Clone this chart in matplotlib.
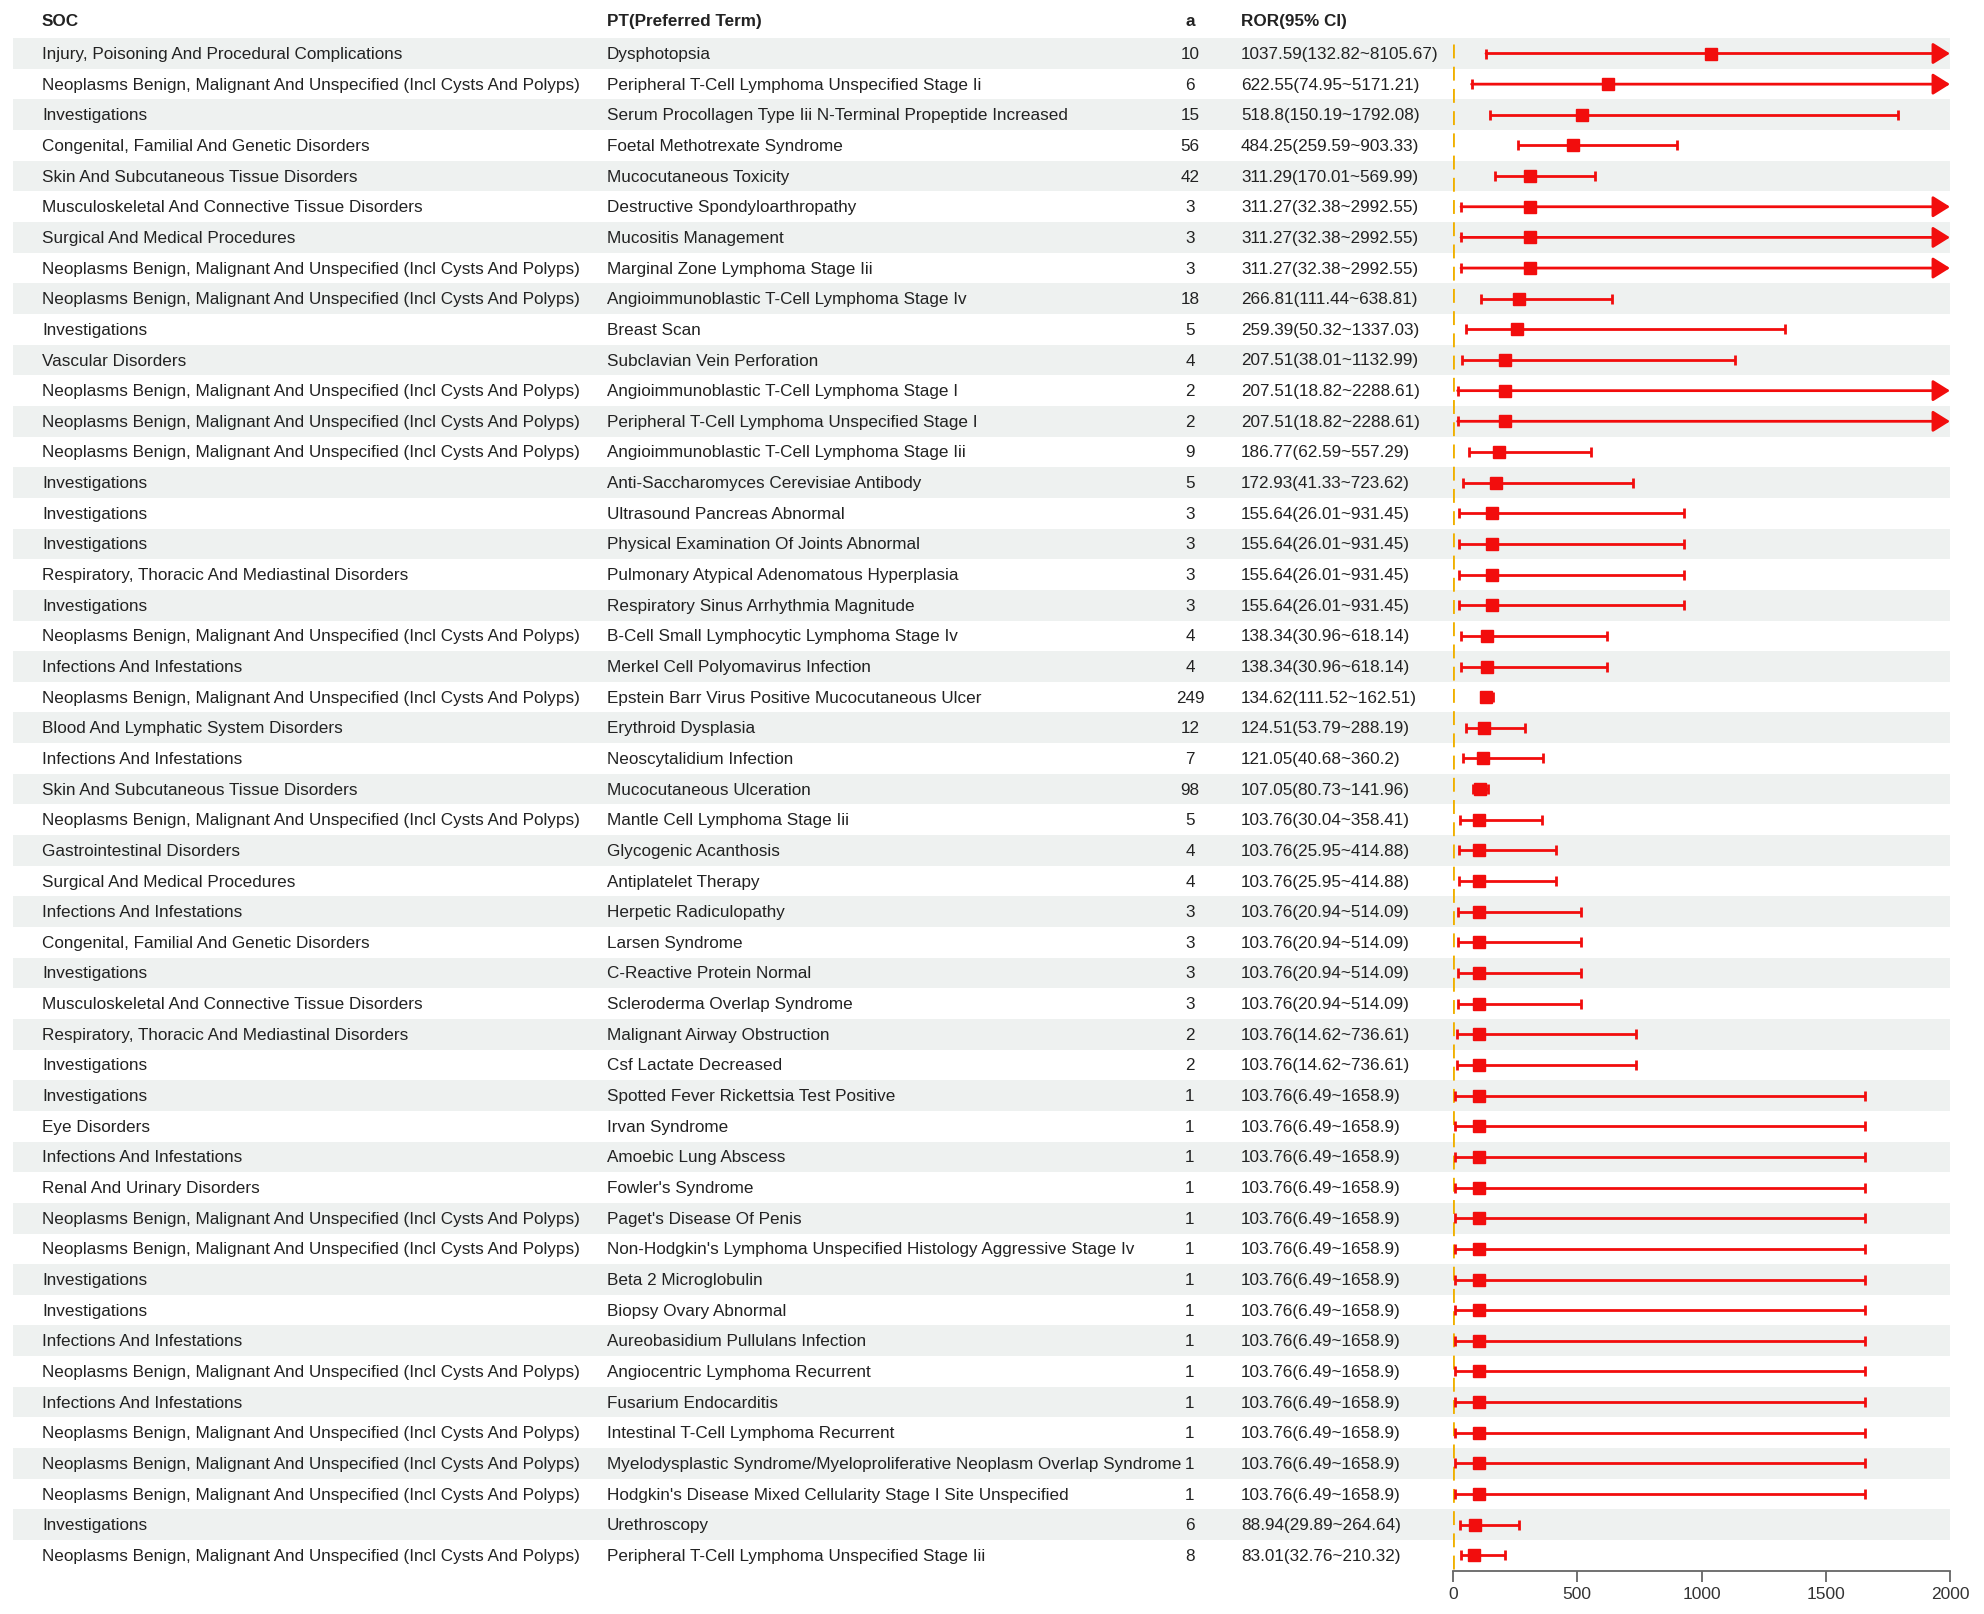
import numpy as np
import matplotlib.pyplot as plt

plt.rcParams['font.family'] = ['Liberation Sans', 'DejaVu Sans']

# SOC names used many times
NEO = "Neoplasms Benign, Malignant And Unspecified (Incl Cysts And Polyps)"
INV = "Investigations"
INF = "Infections And Infestations"
CON = "Congenital, Familial And Genetic Disorders"
SKN = "Skin And Subcutaneous Tissue Disorders"
MSK = "Musculoskeletal And Connective Tissue Disorders"
SUR = "Surgical And Medical Procedures"
RES = "Respiratory, Thoracic And Mediastinal Disorders"

soc = ["Injury, Poisoning And Procedural Complications", NEO, INV, CON, SKN,
       MSK, SUR, NEO, NEO, INV,
       "Vascular Disorders", NEO, NEO, NEO, INV,
       INV, INV, RES, INV, NEO,
       INF, NEO, "Blood And Lymphatic System Disorders", INF, SKN,
       NEO, "Gastrointestinal Disorders", SUR, INF, CON,
       INV, MSK, RES, INV, INV,
       "Eye Disorders", INF, "Renal And Urinary Disorders", NEO, NEO,
       INV, INV, INF, NEO, INF,
       NEO, NEO, NEO, INV, NEO]

pt = ["Dysphotopsia",
      "Peripheral T-Cell Lymphoma Unspecified Stage Ii",
      "Serum Procollagen Type Iii N-Terminal Propeptide Increased",
      "Foetal Methotrexate Syndrome",
      "Mucocutaneous Toxicity",
      "Destructive Spondyloarthropathy",
      "Mucositis Management",
      "Marginal Zone Lymphoma Stage Iii",
      "Angioimmunoblastic T-Cell Lymphoma Stage Iv",
      "Breast Scan",
      "Subclavian Vein Perforation",
      "Angioimmunoblastic T-Cell Lymphoma Stage I",
      "Peripheral T-Cell Lymphoma Unspecified Stage I",
      "Angioimmunoblastic T-Cell Lymphoma Stage Iii",
      "Anti-Saccharomyces Cerevisiae Antibody",
      "Ultrasound Pancreas Abnormal",
      "Physical Examination Of Joints Abnormal",
      "Pulmonary Atypical Adenomatous Hyperplasia",
      "Respiratory Sinus Arrhythmia Magnitude",
      "B-Cell Small Lymphocytic Lymphoma Stage Iv",
      "Merkel Cell Polyomavirus Infection",
      "Epstein Barr Virus Positive Mucocutaneous Ulcer",
      "Erythroid Dysplasia",
      "Neoscytalidium Infection",
      "Mucocutaneous Ulceration",
      "Mantle Cell Lymphoma Stage Iii",
      "Glycogenic Acanthosis",
      "Antiplatelet Therapy",
      "Herpetic Radiculopathy",
      "Larsen Syndrome",
      "C-Reactive Protein Normal",
      "Scleroderma Overlap Syndrome",
      "Malignant Airway Obstruction",
      "Csf Lactate Decreased",
      "Spotted Fever Rickettsia Test Positive",
      "Irvan Syndrome",
      "Amoebic Lung Abscess",
      "Fowler's Syndrome",
      "Paget's Disease Of Penis",
      "Non-Hodgkin's Lymphoma Unspecified Histology Aggressive Stage Iv",
      "Beta 2 Microglobulin",
      "Biopsy Ovary Abnormal",
      "Aureobasidium Pullulans Infection",
      "Angiocentric Lymphoma Recurrent",
      "Fusarium Endocarditis",
      "Intestinal T-Cell Lymphoma Recurrent",
      "Myelodysplastic Syndrome/Myeloproliferative Neoplasm Overlap Syndrome",
      "Hodgkin's Disease Mixed Cellularity Stage I Site Unspecified",
      "Urethroscopy",
      "Peripheral T-Cell Lymphoma Unspecified Stage Iii"]

a = [10, 6, 15, 56, 42, 3, 3, 3, 18, 5,
     4, 2, 2, 9, 5, 3, 3, 3, 3, 4,
     4, 249, 12, 7, 98, 5, 4, 4, 3, 3,
     3, 3, 2, 2, 1, 1, 1, 1, 1, 1,
     1, 1, 1, 1, 1, 1, 1, 1, 6, 8]

ror = [1037.59, 622.55, 518.8, 484.25, 311.29, 311.27, 311.27, 311.27, 266.81, 259.39,
       207.51, 207.51, 207.51, 186.77, 172.93, 155.64, 155.64, 155.64, 155.64, 138.34,
       138.34, 134.62, 124.51, 121.05, 107.05, 103.76, 103.76, 103.76, 103.76, 103.76,
       103.76, 103.76, 103.76, 103.76, 103.76, 103.76, 103.76, 103.76, 103.76, 103.76,
       103.76, 103.76, 103.76, 103.76, 103.76, 103.76, 103.76, 103.76, 88.94, 83.01]

lower = [132.82, 74.95, 150.19, 259.59, 170.01, 32.38, 32.38, 32.38, 111.44, 50.32,
         38.01, 18.82, 18.82, 62.59, 41.33, 26.01, 26.01, 26.01, 26.01, 30.96,
         30.96, 111.52, 53.79, 40.68, 80.73, 30.04, 25.95, 25.95, 20.94, 20.94,
         20.94, 20.94, 14.62, 14.62, 6.49, 6.49, 6.49, 6.49, 6.49, 6.49,
         6.49, 6.49, 6.49, 6.49, 6.49, 6.49, 6.49, 6.49, 29.89, 32.76]

upper = [8105.67, 5171.21, 1792.08, 903.33, 569.99, 2992.55, 2992.55, 2992.55, 638.81, 1337.03,
         1132.99, 2288.61, 2288.61, 557.29, 723.62, 931.45, 931.45, 931.45, 931.45, 618.14,
         618.14, 162.51, 288.19, 360.2, 141.96, 358.41, 414.88, 414.88, 514.09, 514.09,
         514.09, 514.09, 736.61, 736.61, 1658.9, 1658.9, 1658.9, 1658.9, 1658.9, 1658.9,
         1658.9, 1658.9, 1658.9, 1658.9, 1658.9, 1658.9, 1658.9, 1658.9, 264.64, 210.32]

xmax = 2000
red = '#f20d0d'
txt = '#222222'

W, H = 1984, 1615
n = len(soc)
row0, step = 54.5, 30.65
y_top = row0 - step / 2
y_bot = row0 + step * (n - 0.5)

fig = plt.figure(figsize=(W / 100, H / 100), dpi=100)

# table part (stripes and text), x in pixel units
bg = fig.add_axes([13 / W, 1 - y_bot / H, 1937 / W, (y_bot - y_top) / H])
bg.set_xlim(13, 1950)
bg.set_ylim(n - 0.5, -0.5)
bg.axis('off')
for i in range(0, n, 2):
    bg.axhspan(i - 0.5, i + 0.5, color='#eef1f0', lw=0)

fs = 12.35
for i in range(n):
    bg.text(42, i, soc[i], va='center', ha='left', fontsize=fs, color=txt)
    bg.text(607, i, pt[i], va='center', ha='left', fontsize=fs, color=txt)
    bg.text(1190, i, str(a[i]), va='center', ha='center', fontsize=fs, color=txt)
    bg.text(1241, i, f"{ror[i]}({lower[i]}~{upper[i]})", va='center', ha='left',
            fontsize=fs, color=txt)

hy = -1.08
bg.text(42, hy, "SOC", va='center', ha='left', fontsize=fs, fontweight='bold', color=txt, clip_on=False)
bg.text(607, hy, "PT(Preferred Term)", va='center', ha='left', fontsize=fs, fontweight='bold', color=txt, clip_on=False)
bg.text(1190, hy, "a", va='center', ha='center', fontsize=fs, fontweight='bold', color=txt, clip_on=False)
bg.text(1241, hy, "ROR(95% CI)", va='center', ha='left', fontsize=fs, fontweight='bold', color=txt, clip_on=False)

# forest plot
ax = fig.add_axes([1453 / W, 1 - y_bot / H, 497 / W, (y_bot - y_top) / H])
ax.patch.set_alpha(0)
ax.set_xlim(0, xmax)
ax.set_ylim(n - 0.5, -0.5)

ax.vlines(1, -0.3, n - 0.5, colors='#f0b000', linestyles=(0, (5, 3)), lw=2)

for i in range(n):
    if upper[i] > xmax:
        ax.annotate('', xy=(xmax, i), xytext=(lower[i], i),
                    arrowprops=dict(arrowstyle='-|>,head_length=0.8,head_width=0.5',
                                    color=red, lw=2, mutation_scale=13,
                                    shrinkA=0, shrinkB=0))
        ax.plot(lower[i], i, marker='|', color=red, ms=7.5, mew=2)
    else:
        ax.errorbar(ror[i], i, xerr=[[ror[i] - lower[i]], [upper[i] - ror[i]]],
                    fmt='none', ecolor=red, elinewidth=2, capsize=3.8, capthick=2)
    ax.plot(ror[i], i, marker='s', color=red, ms=8.5, zorder=5)

for s in ['top', 'right', 'left']:
    ax.spines[s].set_visible(False)
ax.spines['bottom'].set_color('#666666')
ax.spines['bottom'].set_linewidth(1.3)
ax.set_yticks([])
ax.set_xticks([0, 500, 1000, 1500, 2000])
ax.tick_params(axis='x', length=8, width=1.3, color='#666666', labelsize=12.5,
               labelcolor='#333333', pad=3)

fig.savefig('out.png', dpi=100)
